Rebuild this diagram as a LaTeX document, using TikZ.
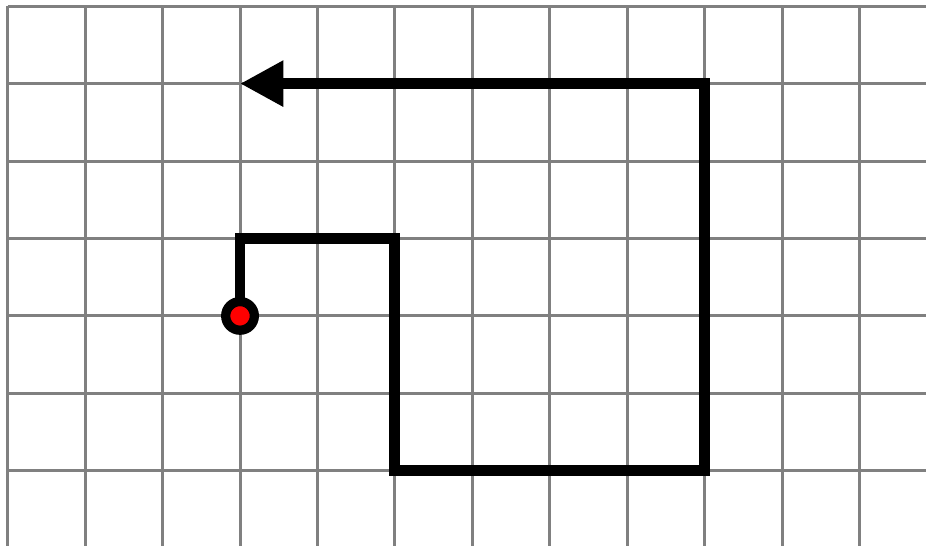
\documentclass[tikz,border=0pt]{standalone}
\usepackage{tikz}
\usetikzlibrary{arrows.meta,positioning,calc}

\begin{document}
\begin{tikzpicture}[
    gridline/.style={gray, line width=1.1pt},
    route/.style={line width=4pt, black, miter limit=10},
    routearrow/.style={-{Triangle[length=0.56cm, width=0.56cm]}},
    startdot/.style={circle, fill=red, draw=black, line width=3.4pt, minimum size=0.37cm, inner sep=0pt}
]
    \useasboundingbox (-0.1,-0.97) rectangle (11.86,6.08);

    % Grid
    \foreach \i in {0,...,11} {
        \draw[gridline] (\i,-1.1) -- (\i,6);
    }
    \foreach \j in {0,...,6} {
        \draw[gridline] (0,\j) -- (12,\j);
    }

    % Route corners
    \coordinate (s) at (3,2);
    \coordinate (c1) at (3,3);
    \coordinate (c2) at (5,3);
    \coordinate (c3) at (5,0);
    \coordinate (c4) at (9,0);
    \coordinate (c5) at (9,5);
    \coordinate (e) at (3,5);

    % Route
    \draw[route, routearrow] (s) -- (c1) -- (c2) -- (c3) -- (c4) -- (c5) -- (e);

    % Start point
    \node[startdot] (start) at (s) {};
\end{tikzpicture}
\end{document}
